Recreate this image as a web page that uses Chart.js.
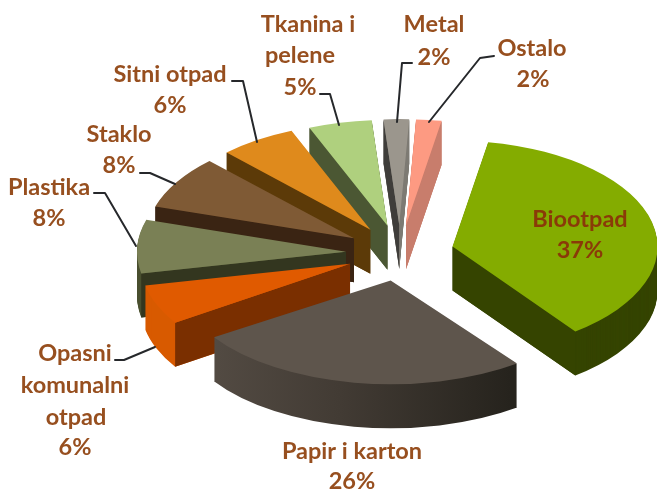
<!DOCTYPE html>
<html>
<head>
<meta charset="utf-8">
<style>html,body{margin:0;padding:0;background:#fff}canvas{display:block;filter:blur(0.45px)}</style>
<script src="https://cdn.jsdelivr.net/npm/chart.js@4"></script>
</head>
<body>
<canvas id="c" width="657" height="490"></canvas>
<script>
const categories = ['Biootpad','Papir i karton','Opasni komunalni otpad','Plastika','Staklo','Sitni otpad','Tkanina i pelene','Metal','Ostalo'];
const values = [37,26,6,8,8,6,5,2,2];
const topColors = ['#84ac00','#5e554c','#e05a00','#7a8055','#7f5a35','#df8a1c','#afd07e','#9b968d','#fd9a82'];
const startFaceColors = ['#354400','#4a433b','#7a2f00','#33361f','#3a2413','#5c3a08','#4b5733','#3f3d3a','#c87d6c'];
const endFaceColors = ['#354400','#4a433b','#7a2f00','#33361f','#3a2413','#5c3a08','#4b5733','#7d7a73','#c87d6c'];
const wallColors = ['#354400',null,'#d85a00','#4a5030','#3a2413','#5c3a08','#4b5733','#7d7a73','#c87d6c'];
const radiusFactor = [1,1.03,1.02,1.02,1.015,1.01,1,1,1];
const tiltFactor = [1,0.95,1,1,1,1,1,1,1];
const drawOrder = [8,7,6,5,4,3,2,1,0];

const labelLines = [
  ['Biootpad','37%'],['Papir i karton','26%'],['Opasni','komunalni','otpad','6%'],['Plastika','8%'],
  ['Staklo','8%'],['Sitni otpad','6%'],['Tkanina i','pelene','5%'],['Metal','2%'],['Ostalo','2%']
];
const labelX = [[580,580],[352,352],[75,75,76,75],[49,49],[119,119],[170,170],[308,300,300],[434,434],[532,533]];
const labelY = [[219,250],[451,481],[353,385,417,447],[187,218],[134,165],[74,105],[24,55,87],[24,57],[48,79]];
const labelColors = ['#8a3a08','#974f1f','#974f1f','#974f1f','#974f1f','#974f1f','#974f1f','#974f1f','#974f1f'];
const leaders = [
  [[115,360],[124,360],[155,347]],
  [[94,193],[105,193],[136,246]],
  [[140,173],[150,173],[175,184]],
  [[232,81],[243,81],[257,142]],
  [[320,94],[330,94],[339,125]],
  [[412,63],[402,63],[397,122]],
  [[494,56],[480,58],[429,122]]
];

const pieX = 400, pieY = 253, tilt = 106/205, depth = 44;
const explode = 216, radius = 205;

const ArcProto = Chart.elements.ArcElement.prototype;
function drawArc(ctx, arc, color, i){
  const p = Object.create(arc);
  p.options = {backgroundColor:color,borderColor:color,borderWidth:0,offset:explode,spacing:0,borderRadius:0,borderJoinStyle:'round',borderAlign:'center',circular:true};
  // ArcElement.draw grows an offset arc and trims its angle: cancel both so all slices share one ellipse
  const growth = explode/4*(1-Math.sin(Math.min(Math.PI,arc.circumference)));
  const r = arc.outerRadius*radiusFactor[i];
  const trim = growth/(2*Math.PI*r);
  p.outerRadius = r - growth;
  p.startAngle = arc.startAngle - trim;
  p.endAngle = arc.endAngle + trim;
  ArcProto.draw.call(p, ctx);
}
function face(ctx, arc, angle, color, i){
  const o = explode/4, r = arc.outerRadius*radiusFactor[i], mid = (arc.startAngle+arc.endAngle)/2;
  const ax = arc.x + o*Math.cos(mid), ay = arc.y + o*Math.sin(mid);
  const ex = ax + r*Math.cos(angle), ey = ay + r*Math.sin(angle), d = depth/(tilt*tiltFactor[i]);
  ctx.fillStyle = color;
  ctx.beginPath();
  ctx.moveTo(ax,ay);ctx.lineTo(ex,ey);ctx.lineTo(ex,ey+d);ctx.lineTo(ax,ay+d);ctx.closePath();
  ctx.fill();
}

const pie3d = {
  id:'pie3d',
  beforeDatasetDraw(chart){
    const ctx = chart.ctx, arcs = chart.getDatasetMeta(0).data;
    drawOrder.forEach(i=>{
      const arc = arcs[i];
      const o = explode/4, mid = (arc.startAngle+arc.endAngle)/2, k = tilt*tiltFactor[i];
      // keep the apex where the common tilt puts it when a slice has its own tilt
      const apexFix = o*Math.sin(mid)*(tilt-k);
      const place = dy=>{
        ctx.setTransform(1,0,0,1,0,0);
        ctx.translate(pieX,pieY+dy+apexFix);ctx.scale(1,k);ctx.translate(-arc.x,-arc.y);
      };
      ctx.save();
      let wall = wallColors[i];
      if(!wall){
        place(0);
        const g = ctx.createLinearGradient(arc.x-190,0,arc.x+120,0);
        g.addColorStop(0,'#544c44');g.addColorStop(0.45,'#423b34');g.addColorStop(1,'#26231d');
        wall = g;
      }
      for(let d=depth;d>=1;d--){
        ctx.save();place(d);drawArc(ctx,arc,wall,i);ctx.restore();
      }
      place(0);
      // a radial cut faces the viewer when its outward normal points down the screen
      if(Math.sin(arc.startAngle-Math.PI/2)>0) face(ctx,arc,arc.startAngle,startFaceColors[i],i);
      if(Math.sin(arc.endAngle+Math.PI/2)>0) face(ctx,arc,arc.endAngle,endFaceColors[i],i);
      drawArc(ctx,arc,topColors[i],i);
      ctx.restore();
    });
    return false;
  },
  afterDraw(chart){
    const ctx = chart.ctx;
    ctx.save();
    ctx.setTransform(1,0,0,1,0,0);
    ctx.strokeStyle='#26282b';ctx.lineWidth=2;ctx.lineJoin='round';ctx.lineCap='round';
    leaders.forEach(l=>{
      ctx.beginPath();
      l.forEach((p,j)=>j?ctx.lineTo(p[0],p[1]):ctx.moveTo(p[0],p[1]));
      ctx.stroke();
    });
    ctx.font='bold 23.5px Lato';ctx.textAlign='center';ctx.textBaseline='middle';
    labelLines.forEach((lines,i)=>{
      ctx.fillStyle=labelColors[i];
      lines.forEach((t,j)=>ctx.fillText(t,labelX[i][j],labelY[i][j]));
    });
    ctx.restore();
  }
};

new Chart(document.getElementById('c'),{
  type:'pie',
  data:{labels:categories,datasets:[{data:values,backgroundColor:topColors,offset:explode,borderWidth:0}]},
  options:{
    responsive:false,animation:false,radius:radius,rotation:10,
    layout:{padding:0},
    plugins:{legend:{display:false},tooltip:{enabled:false}}
  },
  plugins:[pie3d]
});
</script>
</body>
</html>
